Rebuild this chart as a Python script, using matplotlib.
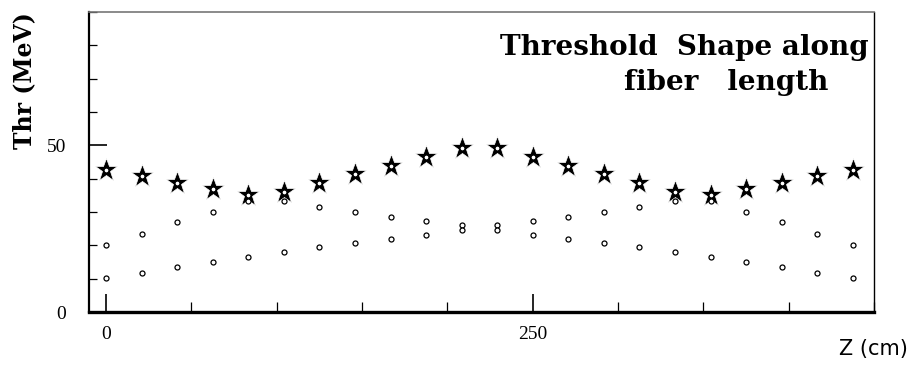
import numpy as np
import matplotlib.pyplot as plt
from matplotlib.ticker import MultipleLocator

# position along the fiber (cm)
z = [0.0, 20.8, 41.7, 62.5, 83.3, 104.2, 125.0, 145.8, 166.7, 187.5, 208.3,
     229.2, 250.0, 270.8, 291.7, 312.5, 333.3, 354.2, 375.0, 395.8, 416.7, 437.5]

# threshold seen by both ends combined (stars)
thr_total = [42.5, 40.7, 38.7, 36.8, 35.0, 35.9, 38.7, 41.4, 43.9, 46.5, 49.2,
             49.2, 46.5, 43.9, 41.4, 38.7, 35.9, 35.0, 36.8, 38.7, 40.7, 42.5]
# upper and lower single-side thresholds (open circles)
thr_upper = [20.1, 23.4, 26.9, 30.0, 33.2, 33.2, 31.6, 30.1, 28.6, 27.2, 26.2,
             26.2, 27.2, 28.6, 30.1, 31.6, 33.2, 33.2, 30.0, 26.9, 23.4, 20.1]
thr_lower = [10.1, 11.8, 13.5, 15.1, 16.6, 18.0, 19.4, 20.7, 22.0, 23.2, 24.6,
             24.6, 23.2, 22.0, 20.7, 19.4, 18.0, 16.6, 15.1, 13.5, 11.8, 10.1]

serif = ['Liberation Serif', 'DejaVu Serif']
bold_serif = ['DejaVu Serif']

fig = plt.figure(figsize=(9.14, 3.68), dpi=100)
ax = fig.add_axes([0.0974, 0.152, 0.859, 0.815])

ax.plot(z, thr_total, ls='none', marker='*', ms=17, mfc='black', mec='white', mew=0.5, zorder=3)
ax.plot(z, thr_total, ls='none', marker='o', ms=3.6, mfc='white', mec='black', mew=0.9, zorder=4)
for thr in (thr_upper, thr_lower):
    ax.plot(z, thr, ls='none', marker='o', ms=3.6, mfc='white', mec='black', mew=0.9, zorder=4)

ax.set_xlim(-10, 450)
ax.set_ylim(0, 90)

ax.xaxis.set_major_locator(MultipleLocator(250))
ax.xaxis.set_minor_locator(MultipleLocator(50))
ax.yaxis.set_major_locator(MultipleLocator(50))
ax.yaxis.set_minor_locator(MultipleLocator(10))
ax.tick_params(which='both', direction='in', top=False, right=False, width=1.2, color='black')
ax.tick_params(axis='x', which='major', length=13, pad=10)
ax.tick_params(axis='x', which='minor', length=7, width=0.9)
ax.tick_params(axis='y', which='major', length=13, pad=16.5)
ax.tick_params(axis='y', which='minor', length=6, width=0.9)
for lab in ax.get_xticklabels() + ax.get_yticklabels():
    lab.set_family(serif)
    lab.set_fontsize(14)

ax.spines['left'].set_linewidth(1.6)
ax.spines['bottom'].set_linewidth(2.4)
ax.spines['right'].set_linewidth(1.0)
ax.spines['top'].set_linewidth(1.2)
ax.spines['top'].set_color('#777777')

fig.text(0.026, 0.967, 'Thr (MeV)', rotation=90, ha='center', va='top',
         family=bold_serif, fontweight='bold', fontsize=17)
fig.text(0.950, 0.850, 'Threshold  Shape along', ha='right', va='baseline',
         family=bold_serif, fontweight='bold', fontsize=20)
fig.text(0.906, 0.755, 'fiber   length', ha='right', va='baseline',
         family=bold_serif, fontweight='bold', fontsize=20)
fig.text(0.993, 0.035, 'Z (cm)', ha='right', va='baseline',
         family=['DejaVu Sans'], fontsize=15)

fig.savefig('out.png', dpi=100)
